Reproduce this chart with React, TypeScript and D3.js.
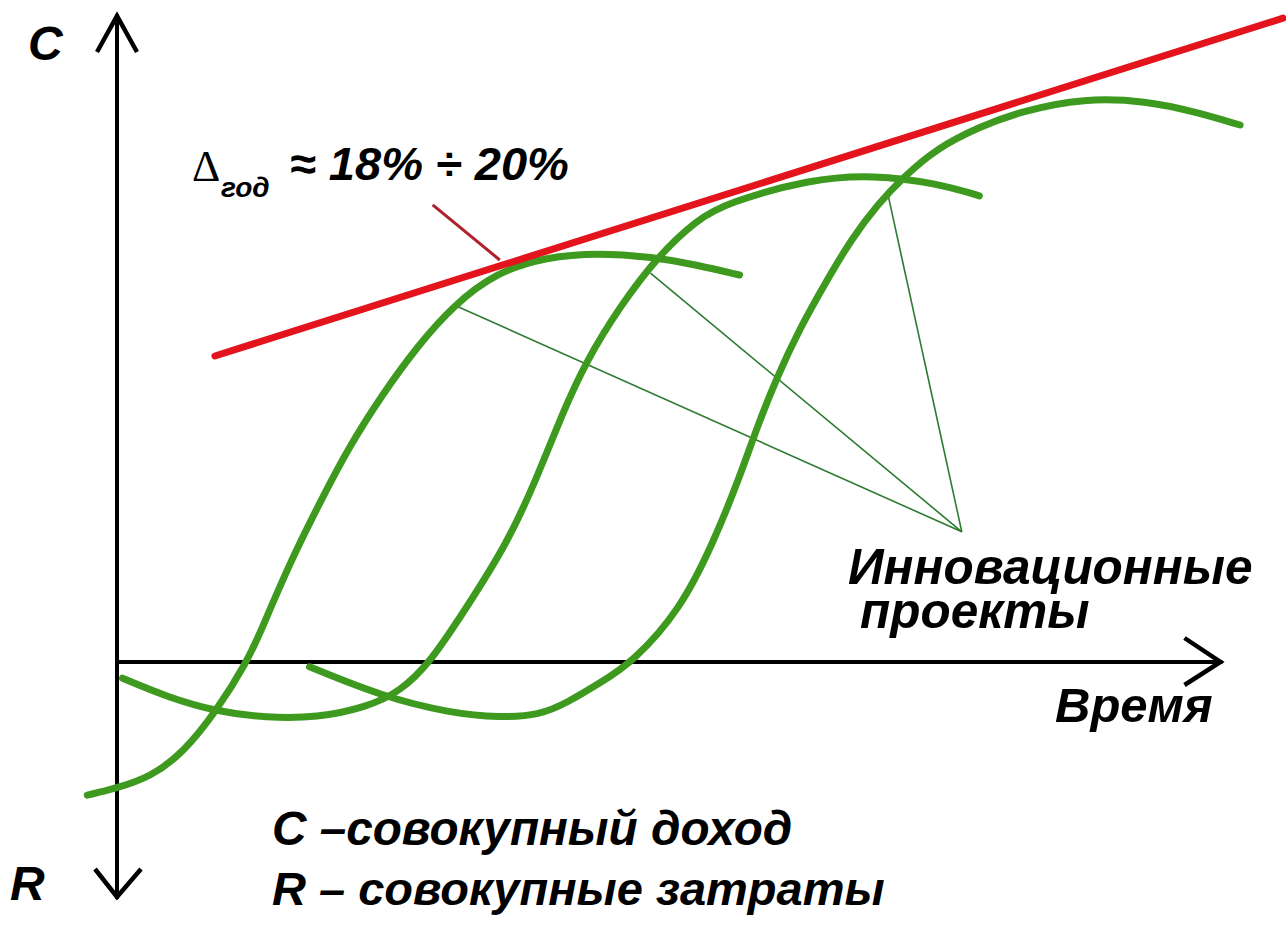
import React, { useEffect, useRef } from 'react';
import * as d3 from 'd3';

// S-curves of three innovation projects: [time, value] (time 0 = vertical axis, value 0 = time axis)
const project1: [number, number][] = [
  [-2.7, -22.2], [0, -21], [3.0, -19.2], [6.0, -15.2], [9.1, -8], [11.8, 0], [13.0, 4.8],
  [15.7, 16.5], [18.5, 26.8], [21.2, 36.2], [24.2, 44.8], [27.3, 52.6], [30.5, 59.3], [34.5, 65],
  [39.1, 67.5], [43.6, 68.2], [48.7, 67.5], [52.7, 66.2], [56.6, 64.5],
];
const project2: [number, number][] = [
  [0.5, -2.7], [4.5, -5.8], [9.1, -8.3], [13.6, -9.3], [18.2, -9.3], [22.7, -7.5], [25.7, -5],
  [28.5, 0], [31.5, 8.3], [35.5, 19.8], [38.2, 30.8], [40.5, 41.5], [42.7, 50.3], [45.7, 59.2],
  [49.1, 67.5], [52.7, 73.7], [55.4, 76.5], [63, 80.5], [68.8, 81.2], [74.5, 79.8], [78.4, 77.7],
];
const project3: [number, number][] = [
  [17.5, -0.8], [24.2, -5.8], [30.3, -8.5], [34.8, -9.3], [38.5, -8.8], [40.9, -6.8], [43.9, -3.5],
  [46.9, 0], [51.2, 8.7], [54.2, 19.8], [56.6, 30.8], [58.2, 39.2], [60, 47.5], [62.1, 55.7],
  [64.4, 63.2], [66.8, 70.6], [69.2, 76.4], [71.5, 80.8], [74.5, 85.6], [78.4, 89.2], [82.2, 91.8],
  [87.9, 94], [93.6, 93.5], [98, 91.7], [102.1, 89.5],
];
const projects = [project1, project2, project3];

// envelope line (annual growth)
const envelope: [number, number][] = [[8.9, 51], [106, 107.3]];
const envelopePointer: [number, number][] = [[28.7, 76.2], [34.8, 67]];

// leader lines from label to each project curve
const leaderTarget: [number, number] = [76.8, 21.7];
const leaderStarts: [number, number][] = [[30.9, 59.3], [48.5, 64.8], [70.1, 77.8]];

const axisTop = 108;
const axisBottom = -39.5;
const axisRight = 100.5;

const growthLabel = '≈ 18% ÷ 20%';
const projectLabel = ['Инновационные', 'проекты'];
const legendLabels = ['C –совокупный доход', 'R – совокупные затраты'];

const W = 1286;
const H = 930;

export default function App() {
  const ref = useRef<SVGSVGElement>(null);

  useEffect(() => {
    if (!ref.current) return;
    const svg = d3.select(ref.current);
    svg.selectAll('*').remove();

    const x = d3.scaleLinear().domain([0, 100]).range([117, 1217]);
    const y = d3.scaleLinear().domain([0, 100]).range([662, 62]);

    const line = d3.line<[number, number]>()
      .x(d => x(d[0]))
      .y(d => y(d[1]));
    const smooth = d3.line<[number, number]>()
      .x(d => x(d[0]))
      .y(d => y(d[1]))
      .curve(d3.curveBasis);

    const font = '"Liberation Sans", Arial, sans-serif';

    // thin leader lines (under the curves)
    svg.append('g')
      .selectAll('path')
      .data(leaderStarts)
      .enter()
      .append('path')
      .attr('d', d => line([d, leaderTarget]))
      .attr('fill', 'none')
      .attr('stroke', '#2e7a30')
      .attr('stroke-width', 1.6);

    // axes
    const x0 = x(0);
    const y0 = y(0);
    const axes = svg.append('g')
      .attr('fill', 'none')
      .attr('stroke', '#000')
      .attr('stroke-width', 4);
    axes.append('line')
      .attr('x1', x0).attr('x2', x0)
      .attr('y1', y(axisTop)).attr('y2', y(axisBottom));
    axes.append('line')
      .attr('x1', x0).attr('x2', x(axisRight))
      .attr('y1', y0).attr('y2', y0);
    // arrowheads
    const t = y(axisTop);
    const b = y(axisBottom);
    const r = x(axisRight);
    axes.append('path')
      .attr('stroke-width', 4.5)
      .attr('d', `M${x0 - 20},${t + 38}L${x0},${t + 2}L${x0 + 20},${t + 38}`);
    axes.append('path')
      .attr('stroke-width', 4.5)
      .attr('d', `M${x0 - 22},${b - 30}L${x0},${b - 2}L${x0 + 24},${b - 30}`);
    axes.append('path')
      .attr('stroke-width', 4.5)
      .attr('d', `M${r - 38},${y0 - 24}L${r - 2},${y0}L${r - 38},${y0 + 23}`);

    // envelope pointer
    svg.append('path')
      .attr('d', line(envelopePointer))
      .attr('stroke', '#b0202a')
      .attr('stroke-width', 3)
      .attr('fill', 'none');

    // project curves
    svg.append('g')
      .selectAll('path')
      .data(projects)
      .enter()
      .append('path')
      .attr('d', d => smooth(d))
      .attr('fill', 'none')
      .attr('stroke', '#3e9a1f')
      .attr('stroke-width', 7)
      .attr('stroke-linecap', 'round');

    // envelope line
    svg.append('path')
      .attr('d', line(envelope))
      .attr('fill', 'none')
      .attr('stroke', '#e3141b')
      .attr('stroke-width', 7)
      .attr('stroke-linecap', 'round');

    const txt = (s: string, px: number, py: number, size = 48) =>
      svg.append('text')
        .attr('x', px)
        .attr('y', py)
        .attr('font-family', font)
        .attr('font-weight', 'bold')
        .attr('font-style', 'italic')
        .attr('font-size', size)
        .attr('fill', '#000')
        .text(s);

    txt('C', 28, 60);
    txt('R', 10, 900);

    svg.append('text')
      .attr('x', 192)
      .attr('y', 181)
      .attr('font-family', '"Liberation Serif", serif')
      .attr('font-size', 44)
      .attr('fill', '#000')
      .text('Δ');
    txt('год', 221, 197, 28);
    txt(growthLabel, 290, 180, 47);

    txt(projectLabel[0], 848, 584, 49.5);
    txt(projectLabel[1], 860, 628, 49.5);
    txt('Время', 1055, 722, 49);

    txt(legendLabels[0], 272, 845, 47.7);
    txt(legendLabels[1], 272, 905, 47);
  }, []);

  return (
    <svg
      ref={ref}
      width={W}
      height={H}
      style={{ position: 'absolute', left: 0, top: 0, background: '#fff' }}
    />
  );
}
